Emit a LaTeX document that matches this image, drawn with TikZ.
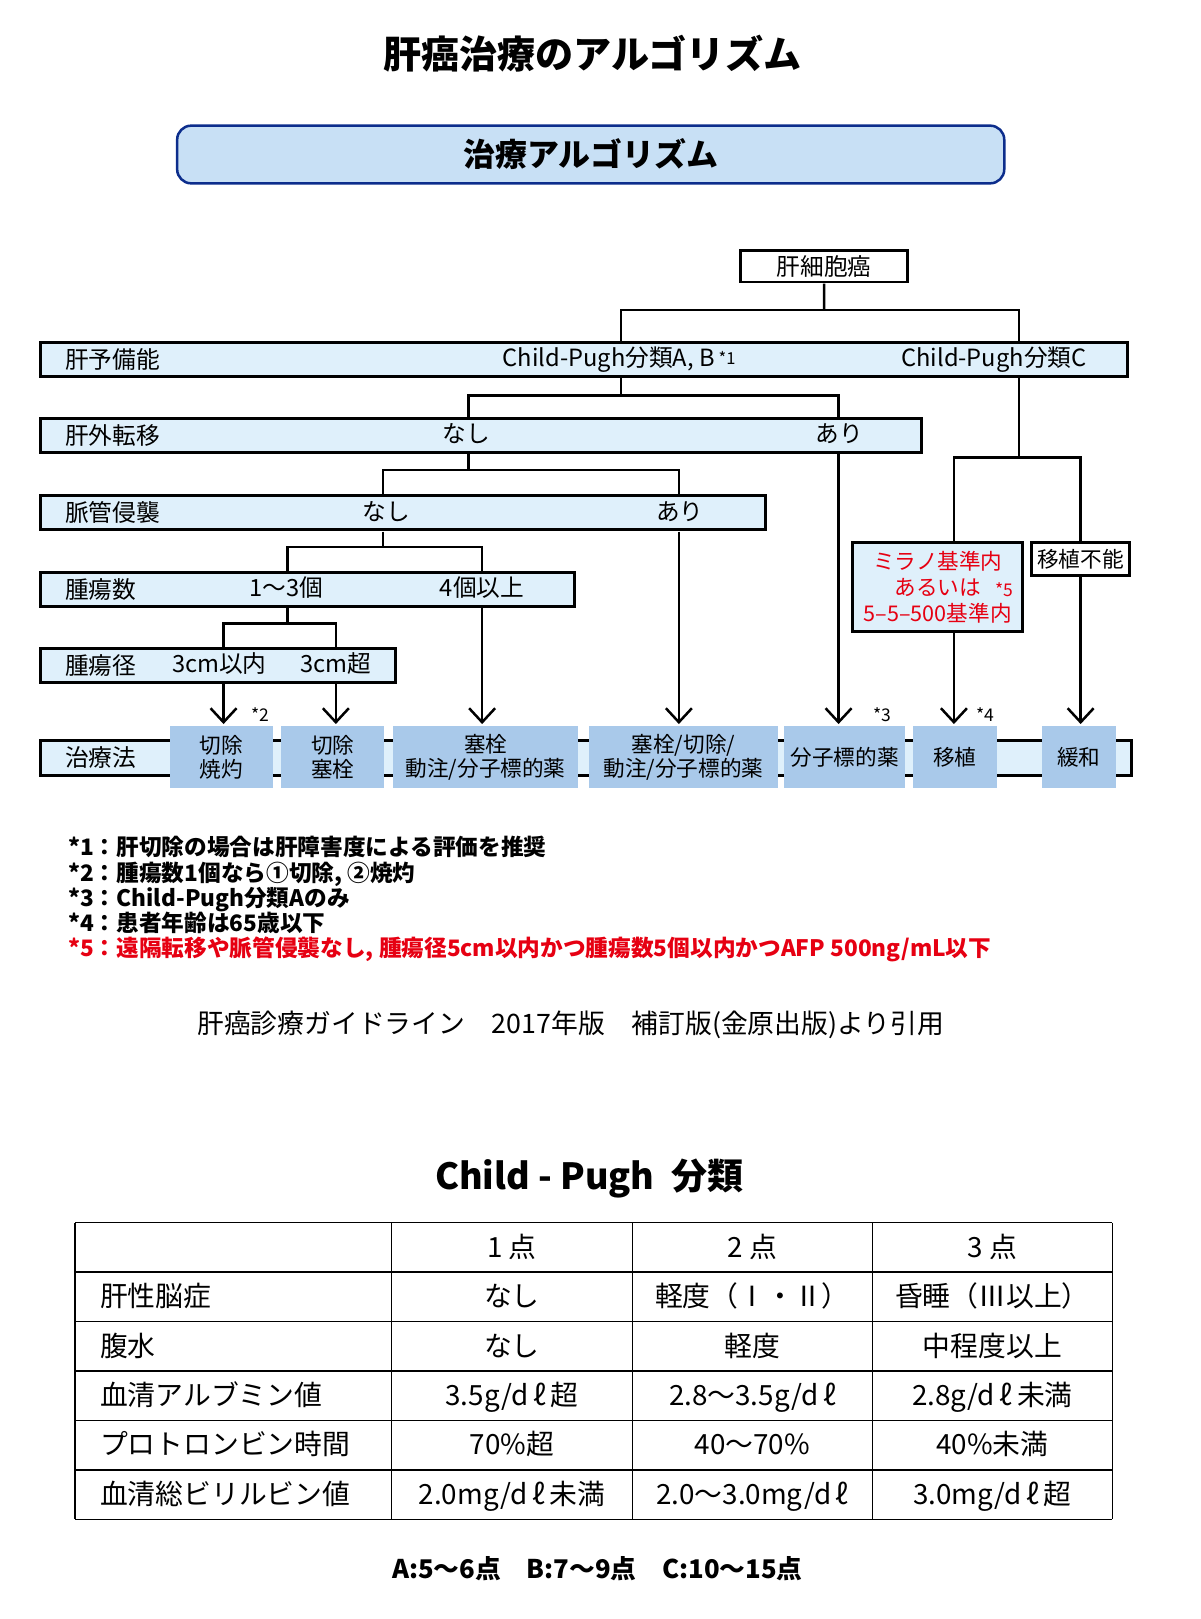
\documentclass[tikz,border=0pt]{standalone}
\usepackage{fontspec}
\setmainfont{Noto Sans CJK JP}
\usetikzlibrary{arrows.meta,positioning}
\definecolor{barblue}{RGB}{223,240,251}
\definecolor{treatblue}{RGB}{169,201,234}
\definecolor{headblue}{RGB}{200,224,245}
\definecolor{headline}{RGB}{12,45,140}
\definecolor{notered}{RGB}{230,0,18}
\begin{document}
\begin{tikzpicture}[x=1pt,y=-1pt,scale=1.03,every node/.append style={transform shape},
  bar/.style={draw,line width=3pt,fill=barblue,anchor=north west,minimum height=33pt,inner sep=0pt},
  lbl/.style={font=\fontsize{23}{23}\selectfont,inner sep=0pt,text height=20pt,text depth=3pt},
  treat/.style={fill=treatblue,minimum height=60pt,inner sep=0pt,align=center,font=\fontsize{21}{23}\selectfont},
  star/.style={font=\fontsize{17}{17}\selectfont,inner sep=0pt},
  link/.style={line width=2.5pt},
  flow/.style={line width=2.5pt,shorten >=2pt,-{Straight Barb[length=14pt,width=26pt]}},
  cell/.style={font=\fontsize{27}{27}\selectfont,inner sep=0pt,text height=23pt,text depth=4pt}]
\useasboundingbox (0,0) rectangle (1165.05,1571.84);

\node[font=\fontsize{37}{37}\selectfont\bfseries] (title) at (575,52) {肝癌治療のアルゴリズム};
\node[draw=headline,fill=headblue,line width=2.5pt,rounded corners=14pt,minimum width=803pt,minimum height=56pt,font=\fontsize{31}{31}\selectfont\bfseries] (algo) at (573.5,150) {治療アルゴリズム};

\node[draw,line width=2.5pt,fill=white,minimum width=162pt,minimum height=31pt,inner sep=0pt,font=\fontsize{23}{23}\selectfont] (hcc) at (800,258.5) {肝細胞癌};

\node[bar,minimum width=1055pt] (row1) at (38,331) {};
\node[bar,minimum width=855pt] (row2) at (38,405) {};
\node[bar,minimum width=704pt] (row3) at (38,480) {};
\node[bar,minimum width=518pt] (row4) at (38,554) {};
\node[bar,minimum width=344pt] (row5) at (38,628) {};
\node[bar,minimum width=1059pt,minimum height=34pt] (row6) at (38,717) {};

\node[lbl,right=25pt of row1.west] (liver) {肝予備能};
\node[lbl] (cpab) at (601,347.5) {Child-Pugh分類A, B\,\raisebox{2pt}{\fontsize{16}{16}\selectfont *1}};
\node[lbl] (cpc) at (965,347.5) {Child-Pugh分類C};
\node[lbl,right=25pt of row2.west] (meta) {肝外転移};
\node[lbl] (metano) at (453,421.5) {なし};
\node[lbl] (metayes) at (815,421.5) {あり};
\node[lbl,right=25pt of row3.west] (vasc) {脈管侵襲};
\node[lbl] (vascno) at (375,496.5) {なし};
\node[lbl] (vascyes) at (660,496.5) {あり};
\node[lbl,right=25pt of row4.west] (num) {腫瘍数};
\node[lbl] (numfew) at (278,570.5) {1〜3個};
\node[lbl] (nummany) at (468,570.5) {4個以上};
\node[lbl,right=25pt of row5.west] (size) {腫瘍径};
\node[lbl] (sizesmall) at (213,644.5) {3cm以内};
\node[lbl] (sizebig) at (326,644.5) {3cm超};
\node[lbl,right=25pt of row6.west] (therapy) {治療法};

\node[treat,minimum width=100pt] (t1) at (215,735) {切除\\焼灼};
\node[treat,minimum width=100pt] (t2) at (323,735) {切除\\塞栓};
\node[treat,minimum width=179pt] (t3) at (471.5,735) {塞栓\\動注/分子標的薬};
\node[treat,minimum width=183pt] (t4) at (663.5,735) {塞栓/切除/\\動注/分子標的薬};
\node[treat,minimum width=118pt] (t5) at (820,735) {分子標的薬};
\node[treat,minimum width=82pt] (t6) at (927,735) {移植};
\node[treat,minimum width=71pt] (t7) at (1047.5,735) {緩和};

\node[draw,line width=3pt,fill=barblue,minimum width=165pt,minimum height=86pt,inner sep=0pt,align=center,text=notered,font=\fontsize{21}{25}\selectfont] (milan) at (910.5,570) {ミラノ基準内\\あるいは\\5–5–500基準内};
\node[star,text=notered] (s5) at (975,572) {*5};
\node[draw,line width=3pt,fill=white,minimum width=96pt,minimum height=32pt,inner sep=0pt,font=\fontsize{21}{21}\selectfont] (nogo) at (1049,543) {移植不能};

\node[star] (s2) at (253,694) {*2};
\node[star] (s3) at (857,694) {*3};
\node[star] (s4) at (957,694) {*4};

\coordinate (b1l) at (603,301); \coordinate (b1r) at (989,301);
\coordinate (b2l) at (455,384); \coordinate (b2r) at (814,384);
\coordinate (b3l) at (372,456); \coordinate (b3r) at (659,456);
\coordinate (b4l) at (279,531); \coordinate (b4r) at (468,531);
\coordinate (b5l) at (217,605); \coordinate (b5r) at (326,605);
\coordinate (c1) at (926,444); \coordinate (c2) at (1049,444);

\draw[link] (hcc) -- (hcc |- b1l);
\draw[link] (b1l |- row1.north) -- (b1l) -- (b1r) -- (b1r |- row1.north);
\draw[link] (b1l |- row1.south) -- (b1l |- b2l);
\draw[link] (b2l |- row2.north) -- (b2l) -- (b2r) -- (b2r |- row2.north);
\draw[link] (b2l |- row2.south) -- (b2l |- b3l);
\draw[link] (b3l |- row3.north) -- (b3l) -- (b3r) -- (b3r |- row3.north);
\draw[link] (b3l |- row3.south) -- (b3l |- b4l);
\draw[link] (b4l |- row4.north) -- (b4l) -- (b4r) -- (b4r |- row4.north);
\draw[link] (b4l |- row4.south) -- (b4l |- b5l);
\draw[link] (b5l |- row5.north) -- (b5l) -- (b5r) -- (b5r |- row5.north);
\draw[link] (b1r |- row1.south) -- (b1r |- c1);
\draw[link] (c1 |- milan.north) -- (c1) -- (c2) -- (c2 |- nogo.north);

\draw[flow] (b5l |- row5.south) -- (b5l |- t1.north);
\draw[flow] (b5r |- row5.south) -- (b5r |- t2.north);
\draw[flow] (b4r |- row4.south) -- (b4r |- t3.north);
\draw[flow] (b3r |- row3.south) -- (b3r |- t4.north);
\draw[flow] (b2r |- row2.south) -- (b2r |- t5.north);
\draw[flow] (c1 |- milan.south) -- (c1 |- t6.north);
\draw[flow] (c2 |- nogo.south) -- (c2 |- t7.north);

\node[anchor=north west,align=left,inner sep=0pt,font=\fontsize{22}{24.5}\selectfont\bfseries] (notes) at (66,812) {*1：肝切除の場合は肝障害度による評価を推奨\\*2：腫瘍数1個なら①切除, ②焼灼\\*3：Child-Pugh分類Aのみ\\*4：患者年齢は65歳以下\\\textcolor{notered}{*5：遠隔転移や脈管侵襲なし, 腫瘍径5cm以内かつ腫瘍数5個以内かつAFP 500ng/mL以下}};

\node[font=\fontsize{26}{26}\selectfont] (cite) at (554,995) {肝癌診療ガイドライン　2017年版　補訂版(金原出版)より引用};

\node[font=\fontsize{35}{35}\selectfont\bfseries] (cptitle) at (572,1144) {Child - Pugh\ \ 分類};

\foreach \y in {1187,1235,1283,1331,1379,1427,1475}
  \draw[line width=1.5pt] (73,\y) -- (1080,\y);
\foreach \x in {73,380,614,847,1080}
  \draw[line width=1.5pt] (\x,1187) -- (\x,1475);

\node[cell] (p1) at (497,1211) {1 点};
\node[cell] (p2) at (730.5,1211) {2 点};
\node[cell] (p3) at (963.5,1211) {3 点};

\node[cell,anchor=west] (enc) at (97,1259) {肝性脳症};
\node[cell] (enc1) at (497,1259) {なし};
\node[cell] (enc2) at (730.5,1259) {軽度（Ⅰ・Ⅱ）};
\node[cell] (enc3) at (963.5,1259) {昏睡（Ⅲ以上）};

\node[cell,anchor=west] (asc) at (97,1307) {腹水};
\node[cell] (asc1) at (497,1307) {なし};
\node[cell] (asc2) at (730.5,1307) {軽度};
\node[cell] (asc3) at (963.5,1307) {中程度以上};

\node[cell,anchor=west] (alb) at (97,1355) {血清アルブミン値};
\node[cell] (alb1) at (497,1355) {3.5g/d\,ℓ\,超};
\node[cell] (alb2) at (730.5,1355) {2.8〜3.5g/d\,ℓ};
\node[cell] (alb3) at (963.5,1355) {2.8g/d\,ℓ\,未満};

\node[cell,anchor=west] (pt) at (97,1403) {プロトロンビン時間};
\node[cell] (pt1) at (497,1403) {70\%超};
\node[cell] (pt2) at (730.5,1403) {40〜70\%};
\node[cell] (pt3) at (963.5,1403) {40\%未満};

\node[cell,anchor=west] (bil) at (97,1451) {血清総ビリルビン値};
\node[cell] (bil1) at (497,1451) {2.0mg/d\,ℓ\,未満};
\node[cell] (bil2) at (730.5,1451) {2.0〜3.0mg/d\,ℓ};
\node[cell] (bil3) at (963.5,1451) {3.0mg/d\,ℓ\,超};

\node[font=\fontsize{25}{25}\selectfont\bfseries] (score) at (580,1523) {A:5〜6点　B:7〜9点　C:10〜15点};
\end{tikzpicture}
\end{document}
